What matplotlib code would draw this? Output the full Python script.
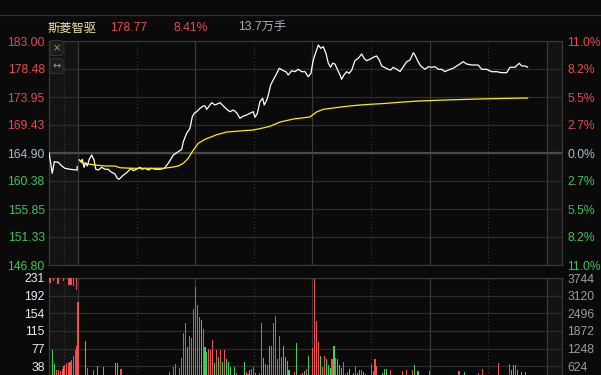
import matplotlib.pyplot as plt
from matplotlib.lines import Line2D

plt.rcParams['font.family'] = ['Liberation Sans', 'Noto Sans CJK SC', 'DejaVu Sans']

# ---- data (minutes from 9:30, negatives = call auction) ----
pre_minutes = [-14.8, -13.2, -12.1, -10.1, -8.3, -6.7, -4.1, -0.4, -0.4]
pre_prices = [164.95, 161.62, 163.49, 163.40, 162.80, 162.43, 162.27, 162.15, 162.69]

price_minutes = [0.7, 1.5, 2.2, 3.1, 3.9, 4.8, 5.6, 7.0, 8.2, 9.1, 10.4, 12.1, 13.8, 15.5,
                 16.7, 18.9, 20.1, 21.0, 22.7, 24.9, 27.1, 28.3, 30.0, 31.7, 32.9, 34.3,
                 36.0, 37.7, 39.4, 42.0, 44.2, 46.2, 48.8, 51.3, 53.1, 53.9, 55.6, 57.3,
                 58.5, 59.5, 60.7, 62.4, 64.1, 65.0, 65.9, 68.4, 70.1, 72.7, 74.4, 76.1,
                 77.8, 79.5, 81.2, 82.9, 84.6, 86.3, 88.0, 89.7, 90.6, 91.8, 93.1, 94.5,
                 95.3, 96.6, 97.4, 98.6, 99.9, 101.3, 103.0, 105.1, 106.4, 107.6, 109.4,
                 111.0, 112.7, 114.5, 116.2, 117.8, 119.2, 120.4, 121.8, 123.0, 124.2,
                 125.5, 126.9, 128.1, 129.3, 130.3, 131.5, 132.7, 134.1, 134.9, 136.1,
                 137.5, 138.8, 140.1, 141.7, 143.4, 145.2, 146.4, 147.7, 149.4, 151.1,
                 152.8, 154.2, 155.4, 157.1, 158.8, 160.0, 161.3, 163.1, 164.8, 166.5,
                 168.2, 169.9, 170.7, 171.6, 172.4, 174.1, 175.4, 177.6, 179.3, 181.0,
                 182.7, 184.4, 186.1, 187.8, 189.5, 192.0, 194.6, 197.2, 198.9, 201.5,
                 204.8, 206.6, 209.1, 211.7, 214.2, 216.8, 219.4, 221.1, 223.6, 225.8,
                 227.1, 228.7, 230.1]
prices = [163.77, 163.49, 163.88, 162.59, 163.33, 162.80, 163.77, 164.58, 163.77, 162.27,
          162.15, 162.59, 162.27, 162.27, 161.88, 161.51, 160.81, 160.65, 161.18, 161.72,
          162.43, 162.04, 162.27, 162.59, 162.27, 162.43, 162.15, 162.43, 162.27, 162.27,
          162.43, 163.24, 164.58, 165.11, 165.50, 166.73, 168.08, 168.89, 170.77, 171.32,
          171.57, 172.12, 172.50, 172.50, 171.96, 173.03, 172.66, 173.03, 172.50, 171.96,
          171.57, 171.85, 171.41, 170.51, 170.88, 171.04, 171.32, 171.57, 170.67, 171.32,
          173.19, 173.74, 172.66, 173.47, 174.27, 175.89, 176.70, 177.51, 178.59, 178.20,
          178.04, 177.51, 178.20, 178.04, 178.43, 178.04, 178.04, 177.23, 177.78, 179.93,
          181.27, 182.35, 181.82, 182.08, 181.01, 179.40, 178.75, 179.40, 179.28, 178.43,
          177.51, 176.81, 177.51, 178.04, 177.78, 178.31, 179.82, 180.20, 180.90, 180.20,
          179.82, 180.04, 180.37, 180.58, 179.93, 178.96, 178.69, 178.43, 178.31, 178.75,
          178.43, 178.07, 178.85, 179.65, 179.93, 180.46, 181.11, 180.74, 179.65, 178.96,
          178.43, 178.85, 178.75, 178.85, 178.43, 178.43, 178.04, 178.31, 178.59, 179.12,
          179.65, 179.28, 179.12, 179.12, 178.43, 178.43, 178.04, 178.04, 177.88, 177.88,
          178.75, 178.75, 179.40, 178.96, 178.96, 178.77]

avg_minutes = [0.7, 1.9, 5.3, 8.7, 13.8, 18.9, 21.5, 27.5, 43.6, 47.9, 51.3, 53.9, 56.4,
               59.0, 61.6, 65.0, 68.4, 71.0, 76.1, 84.6, 89.7, 93.1, 98.2, 103.4, 110.2,
               118.7, 122.1, 125.5, 130.6, 135.8, 142.6, 149.4, 155.4, 166.5, 174.1,
               188.7, 205.7, 221.1, 230.1]
avg_prices = [163.77, 163.33, 163.12, 162.96, 162.80, 162.80, 162.52, 162.43, 162.43,
              162.59, 162.80, 163.24, 164.04, 165.38, 166.47, 167.11, 167.53, 167.86,
              168.29, 168.50, 168.62, 168.83, 169.21, 169.91, 170.39, 170.72, 171.53,
              171.96, 172.17, 172.38, 172.61, 172.77, 172.87, 173.14, 173.30, 173.47,
              173.63, 173.74, 173.79]

pre_vol_minutes = [-13.2, -12.1, -10.9, -10.1, -8.9, -7.8, -7.2, -6.7, -5.8, -4.9, -4.1,
                   -3.2, -2.4, -1.5, -1.0]
pre_vol = [74, 43, 30, 30, 28, 32, 39, 41, 45, 46, 48, 51, 61, 74, 83]
pre_vol_up = [0, 0, 1, 1, 1, 1, 0, 1, 1, 1, 1, 1, 1, 1, 1]

unmatched_minutes = [-14.6, -14.0, -12.6, -10.6, -9.9, -7.5, -4.6, -3.6, -2.4, -1.0]
unmatched_vol = [12, 12, 7, 13, 13, 6, 15, 15, 17, 26]

vol_minutes = [0, 4, 5, 8, 10, 13, 19, 20, 22, 47, 49, 50, 52, 53, 54, 55, 56, 57, 58, 59,
               60, 61, 62, 63, 64, 65, 66, 67, 68, 69, 70, 71, 72, 73, 74, 75, 76, 77, 78,
               80, 81, 85, 86, 87, 88, 89, 90, 91, 93, 94, 95, 96, 97, 98, 99, 100, 101,
               102, 103, 104, 105, 106, 107, 108, 111, 112, 114, 115, 116, 117, 118, 120,
               121, 122, 123, 124, 125, 126, 127, 128, 129, 130, 131, 132, 133, 134, 135,
               136, 137, 138, 139, 141, 142, 143, 144, 145, 146, 147, 150, 151, 152, 153,
               156, 157, 158, 160, 166, 168, 171, 172, 174, 180, 195, 198, 205, 207, 215,
               221, 222, 223, 224, 225, 227, 229]
volumes = [178, 93, 35, 30, 39, 37, 45, 46, 32, 26, 37, 43, 35, 56, 112, 132, 81, 104, 99,
           163, 212, 172, 146, 139, 120, 80, 69, 76, 74, 96, 45, 74, 58, 74, 48, 74, 54, 48,
           37, 37, 24, 48, 26, 22, 30, 32, 36, 24, 24, 133, 56, 43, 41, 82, 82, 133, 148,
           54, 104, 58, 82, 58, 50, 30, 26, 89, 22, 24, 28, 32, 61, 78, 229, 137, 91, 61,
           37, 61, 54, 41, 34, 54, 82, 56, 54, 41, 34, 48, 22, 26, 32, 24, 39, 24, 30, 30,
           26, 22, 43, 28, 54, 39, 24, 32, 32, 30, 28, 30, 30, 41, 28, 28, 28, 26, 24, 32,
           45, 43, 30, 41, 41, 30, 26, 26]
vol_up = [1, 0, 1, 1, 0, 0, 0, 0, 1, 1, 1, 1, 1, 1, 1, 1, 0, 1, 1, 1,
          1, 1, 1, 0, 1, 0, 0, 1, 1, 1, 0, 1, 0, 1, 0, 1, 0, 0, 0,
          0, 1, 0, 1, 1, 0, 1, 1, 0, 1, 1, 0, 1, 1, 0, 1, 1, 1,
          1, 1, 1, 0, 0, 0, 0, 1, 0, 1, 1, 0, 1, 0, 1,
          1, 1, 1, 0, 1, 1, 0, 0, 0, 1, 0, 1, 0, 0, 0,
          1, 1, 1, 0, 1, 1, 1, 0, 1, 0, 1, 1, 1, 1, 1,
          0, 0, 0, 1, 1, 1, 1, 0, 0, 0, 1, 0, 1, 1, 1,
          1, 0, 0, 1, 0, 0, 0]

price_ticks = [146.80, 151.33, 155.85, 160.38, 164.90, 169.43, 173.95, 178.48, 183.00]
price_labels = ['146.80', '151.33', '155.85', '160.38', '164.90', '169.43', '173.95',
                '178.48', '183.00']
pct_labels = ['11.0%', '8.2%', '5.5%', '2.7%', '0.0%', '2.7%', '5.5%', '8.2%', '11.0%']
vol_ticks = [38.5, 77, 115.5, 154, 192.5, 231]
vol_labels_left = ['38', '77', '115', '154', '192', '231']
vol_labels_right = ['624', '1248', '1872', '2496', '3120', '3744']

name = '斯菱智驱'
last_price = '178.77'
change_pct = '8.41%'
turnover = '13.7万手'

# ---- styles ----
BG = '#0a0a0a'
SIDE = '#131313'
GRID = '#2c2c2c'
VLINE = '#383838'
RED = '#f25050'
GREEN = '#35d45a'
UP_TXT = '#e84a4a'
DN_TXT = '#3cc45a'
MID_TXT = '#a9bcd4'

fig = plt.figure(figsize=(6.01, 3.75), dpi=100, facecolor=BG)
W, H = 601, 375
x0, x1 = -14.84, 247.7


def style_panel(ax, top, bottom, hlines):
    ax.set_facecolor(BG)
    ax.set_xlim(x0, x1)
    ax.set_ylim(bottom, top)
    ax.axvspan(x0, 0, color=SIDE, zorder=0)
    ax.axvspan(240, x1, color=SIDE, zorder=0)
    for y in hlines:
        ax.axhline(y, color=GRID, lw=0.9, zorder=1)
    for m in [0, 60, 120, 180, 240]:
        ax.axvline(m, color=VLINE, lw=0.9, zorder=1)
    for m in [-7.4, 30, 90, 150, 210]:
        ax.axvline(m, color=VLINE, lw=0.8, ls=(0, (1, 2)), zorder=1)
    for s in ax.spines.values():
        s.set_color(VLINE)
        s.set_linewidth(0.9)
    ax.set_xticks([])
    ax.tick_params(axis='y', length=0, labelsize=8.7)


# price panel
ax = fig.add_axes([49 / W, 1 - 265 / H, 513 / W, 224 / H])
style_panel(ax, 183.0, 146.8, price_ticks)
ax.axhline(164.90, color='#4a4a4a', lw=1.6, zorder=1)
ax.plot(pre_minutes, pre_prices, color='white', lw=0.9, zorder=3)
ax.plot(price_minutes, prices, color='white', lw=0.9, zorder=3)
ax.plot(avg_minutes, avg_prices, color='#ffee00', lw=0.9, zorder=3)
ax.set_yticks(price_ticks, price_labels)
ax.tick_params(axis='y', pad=3)
axr = ax.twinx()
axr.set_ylim(146.8, 183.0)
axr.set_yticks(price_ticks, pct_labels)
axr.tick_params(axis='y', length=0, labelsize=8.7, pad=4)
for s in axr.spines.values():
    s.set_visible(False)
for labels in (ax.get_yticklabels(), axr.get_yticklabels()):
    for i, t in enumerate(labels):
        t.set_color(DN_TXT if i < 4 else (MID_TXT if i == 4 else UP_TXT))

# buttons in the corner
for yy, sym in [(48, '×'), (66, '↔')]:
    fig.text(56.5 / W, 1 - yy / H, sym, color='#9a9a9a', fontsize=7, ha='center',
             va='center', family='DejaVu Sans',
             bbox=dict(boxstyle='round,pad=0.25', fc='#1c1c1c', ec='#3a3a3a', lw=0.6))

# volume panel
av = fig.add_axes([49 / W, 1 - 383.8 / H, 513 / W, 105.8 / H])
style_panel(av, 231, 0, vol_ticks)
pre_colors = [RED if u else GREEN for u in pre_vol_up]
av.bar(pre_vol_minutes, pre_vol, width=0.55, color=pre_colors, lw=0, zorder=3,
       antialiased=False)
av.bar(unmatched_minutes, [-v for v in unmatched_vol], bottom=231, width=0.55,
       color=RED, lw=0, zorder=3, antialiased=False)
colors = [RED if u else GREEN for u in vol_up]
av.bar(vol_minutes, volumes, width=0.55, color=colors, lw=0, zorder=3, antialiased=False)
av.set_yticks(vol_ticks, vol_labels_left)
av.tick_params(axis='y', pad=3, labelcolor='#e8eef8')
avr = av.twinx()
avr.set_ylim(0, 231)
avr.set_yticks(vol_ticks, vol_labels_right)
avr.tick_params(axis='y', length=0, labelsize=8.7, pad=4, labelcolor='#9c9c9c')
for s in avr.spines.values():
    s.set_visible(False)

# header
fig.add_artist(Line2D([0, 1], [1 - 15 / H, 1 - 15 / H], color='#333333', lw=0.9))
hy = 1 - 28 / H
fig.text(48 / W, hy, name, color='#f2e6a0', fontsize=8.8, va='center',
         family=['Noto Sans CJK SC', 'DejaVu Sans'])
fig.text(110 / W, hy, last_price, color=UP_TXT, fontsize=8.8, va='center')
fig.text(174 / W, hy, change_pct, color=UP_TXT, fontsize=8.8, va='center')
fig.text(238 / W, hy, turnover, color='#a6aebb', fontsize=8.8, va='center',
         family=['Liberation Sans', 'Noto Sans CJK SC'])

fig.savefig('out.png', dpi=100, facecolor=BG)
